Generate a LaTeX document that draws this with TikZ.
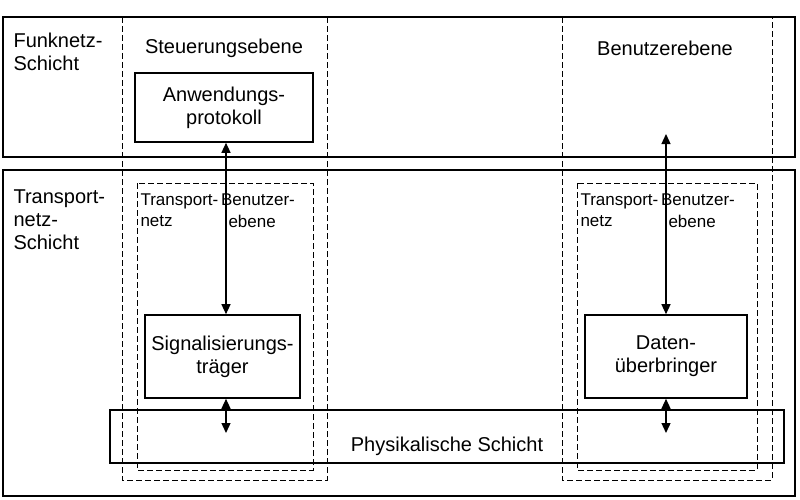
\documentclass[tikz,border=0pt]{standalone}
\usepackage{fontspec}
\setmainfont{Liberation Sans}
\usetikzlibrary{arrows.meta}
\begin{document}
\begin{tikzpicture}[x=1pt,y=-1pt,
  solidbox/.style={draw,line width=2.2pt},
  dbox/.style={draw,dash pattern=on 6pt off 3pt,line width=1pt},
  pbox/.style={draw,line width=1.6pt},
  lbl/.style={font=\fontsize{20}{23}\selectfont,align=center},
  slbl/.style={font=\fontsize{17}{19}\selectfont},
  arr/.style={{Triangle[length=10pt,width=9pt]}-{Triangle[length=10pt,width=9pt]},line width=1.3pt}]
\useasboundingbox (0,0) rectangle (800,500);
\fill[white] (0,0) rectangle (800,500);
\draw[solidbox] (3,17) rectangle (795,157);
\draw[solidbox] (3,170) rectangle (795,496);
\draw[dbox] (122,17) rectangle (327,480);
\draw[dbox] (562,17) rectangle (772,480);
\draw[dbox] (137,183) rectangle (313,470);
\draw[dbox] (577,183) rectangle (757,470);
\node[pbox,minimum width=178pt,minimum height=69pt,lbl] (app) at (224,107.5) {Anwendungs-\\protokoll};
\node[pbox,minimum width=155pt,minimum height=83pt,lbl] (sig) at (222.5,356.5) {Signalisierungs-\\träger};
\node[pbox,minimum width=162pt,minimum height=83pt,lbl] (dat) at (666,356.5) {Daten-\\überbringer};
\node[pbox,minimum width=674pt,minimum height=53pt] (phy) at (447,436.5) {};
\node[lbl] at (447,446) {Physikalische Schicht};
\node[lbl,align=left,anchor=west] at (10,52) {Funknetz-\\Schicht};
\node[lbl,align=left,anchor=west] at (10,220) {Transport-\\netz-\\Schicht};
\node[lbl] at (224,48) {Steuerungsebene};
\node[lbl] at (665,48) {Benutzerebene};
\node[slbl,anchor=west] at (137,201) {Transport-\,Benutzer-};
\node[slbl,anchor=west] at (137,221) {netz};
\node[slbl,anchor=west] at (225,221) {ebene};
\node[slbl,anchor=west] at (577,201) {Transport-\,Benutzer-};
\node[slbl,anchor=west] at (577,221) {netz};
\node[slbl,anchor=west] at (665,221) {ebene};
\coordinate (rt) at (666,134);
\coordinate (lb) at (226,433);
\coordinate (rb) at (666,433);
\draw[arr] ([xshift=2pt]app.south) -- ([xshift=3.5pt]sig.north);
\draw[arr] ([xshift=3.5pt]sig.south) -- (lb);
\draw[arr] (rt) -- (dat.north);
\draw[arr] (dat.south) -- (rb);
\end{tikzpicture}
\end{document}
